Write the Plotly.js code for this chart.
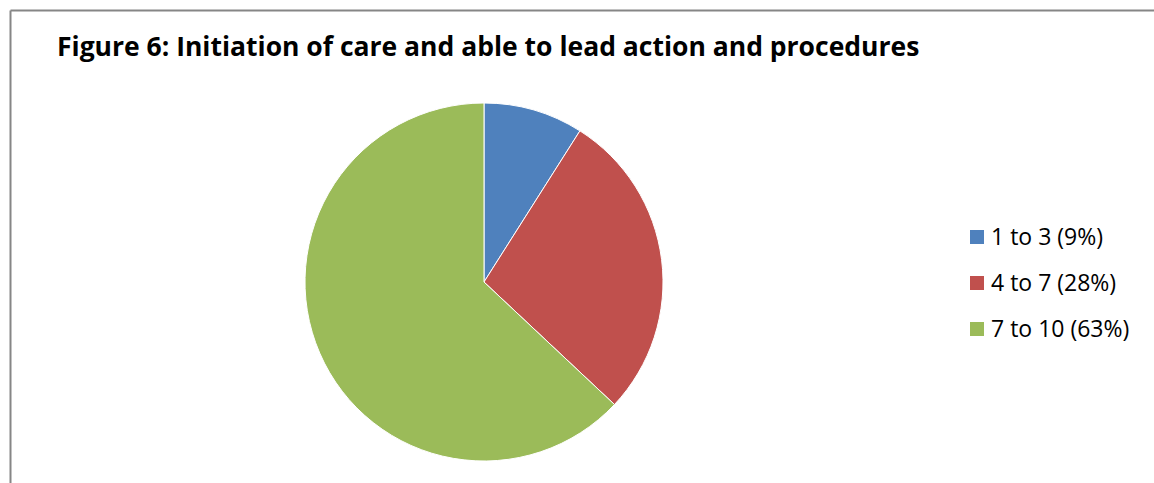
<!DOCTYPE html>
<html>
<head>
<meta charset="utf-8">
<script src="https://cdn.plot.ly/plotly-3.0.1.min.js"></script>
<style>html,body{margin:0;padding:0;background:#fff;}#chart{width:1154px;height:483px;}</style>
</head>
<body>
<div id="chart"></div>
<script>
var categories = ["1 to 3 (9%)", "4 to 7 (28%)", "7 to 10 (63%)"];
var values = [9, 28, 63];
var colors = ["#4F81BD", "#C0504D", "#9BBB59"];

var W = 1154, H = 483;
var font = "'Open Sans', 'Noto Sans', sans-serif";

var trace = {
  type: "pie",
  labels: categories,
  values: values,
  sort: false,
  direction: "clockwise",
  rotation: 0,
  textinfo: "none",
  hoverinfo: "label+value",
  marker: {colors: colors, line: {color: "#ffffff", width: 1}},
  domain: {x: [305 / W, 663 / W], y: [22 / H, 380 / H]},
  showlegend: false
};

var shapes = [
  {type: "line", xref: "paper", yref: "paper", x0: 10.5 / W, x1: 1, y0: 1 - 10.5 / H, y1: 1 - 10.5 / H, line: {color: "#868686", width: 2}},
  {type: "line", xref: "paper", yref: "paper", x0: 10.5 / W, x1: 10.5 / W, y0: 0, y1: 1 - 10.5 / H, line: {color: "#868686", width: 2}}
];
var annotations = [];
var legX = 970, legY0 = 237, legStep = 46, sq = 14;
for (var i = 0; i < categories.length; i++) {
  var cy = legY0 + i * legStep;
  shapes.push({type: "rect", xref: "paper", yref: "paper",
    x0: legX / W, x1: (legX + sq) / W, y0: 1 - (cy + sq / 2) / H, y1: 1 - (cy - sq / 2) / H,
    fillcolor: colors[i], line: {width: 0}});
  annotations.push({xref: "paper", yref: "paper", x: (legX + sq + 5) / W, y: 1 - (cy - 1) / H,
    xanchor: "left", yanchor: "middle", showarrow: false, text: categories[i],
    font: {family: font, size: 23, color: "#000"}});
}

var layout = {
  width: W, height: H,
  margin: {l: 0, r: 0, t: 0, b: 0},
  paper_bgcolor: "#fff",
  showlegend: false,
  title: {text: "<b>Figure 6: Initiation of care and able to lead action and procedures</b>",
    x: 57 / W, xanchor: "left", xref: "paper", y: 1 - 47 / H, yanchor: "middle", yref: "paper",
    font: {family: font, size: 26.5, color: "#000"}},
  shapes: shapes,
  annotations: annotations
};

Plotly.newPlot("chart", [trace], layout, {displayModeBar: false, staticPlot: true});
</script>
</body>
</html>
